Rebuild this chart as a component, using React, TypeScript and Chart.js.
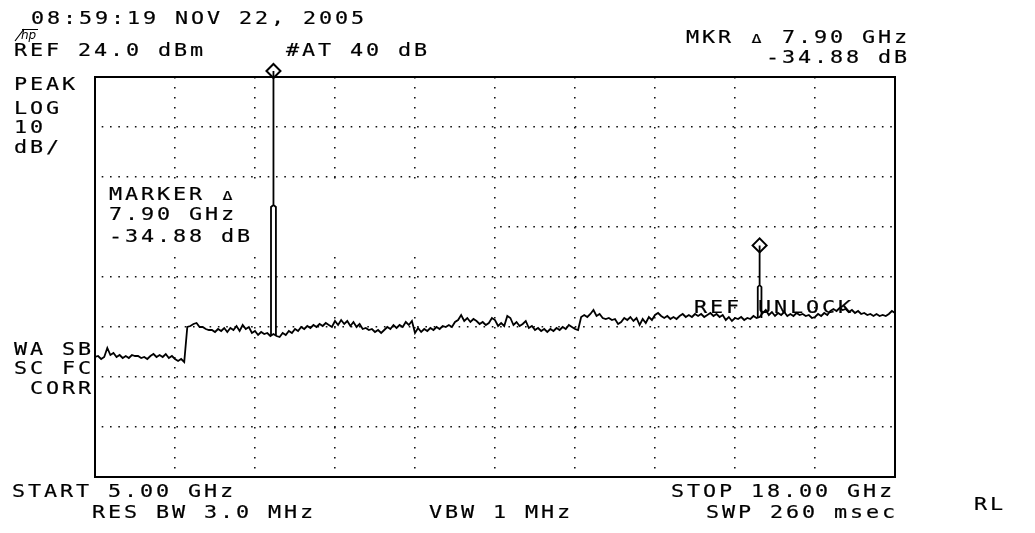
import React, { useEffect, useRef } from "react";
import { Chart, registerables } from "chart.js";

Chart.register(...registerables);

// ---------------- instrument settings ----------------
const START_GHZ = 5.0;
const STOP_GHZ = 18.0;
const SWEEP_STEP_GHZ = 0.05;
const REF_LEVEL_DBM = 24.0;
const DB_PER_DIV = 10;
const Y_DIVS = 8;
const X_DIVS = 10;

// ---------------- trace (dBm), one value per sweep point 5.00, 5.05 ... 18.00 GHz ----------------
const TRACE_DBM = [
  // 5.00 - 5.95
  -32.0, -31.8, -32.4, -32.0, -30.2, -31.6, -31.2, -32.0, -31.6, -32.2, -31.8, -32.2, -31.6, -31.8, -31.8, -32.2, -32.0, -32.4, -31.8, -31.4,
  // 6.00 - 6.95
  -32.0, -31.6, -32.0, -31.4, -32.2, -31.8, -32.4, -32.8, -32.4, -33.0, -26.0, -25.8, -25.4, -25.2, -26.0, -26.0, -26.4, -26.6, -26.6, -27.0,
  // 7.00 - 7.95
  -26.4, -26.8, -26.2, -27.0, -26.2, -26.6, -25.8, -26.8, -25.6, -26.4, -26.0, -27.2, -26.8, -27.6, -27.0, -27.4, -27.2, -27.8, -27.4, -27.8,
  // 8.00 - 8.95
  -28.0, -27.2, -27.6, -26.8, -27.2, -26.4, -26.8, -26.0, -26.4, -25.8, -26.2, -25.6, -26.0, -25.4, -25.8, -25.2, -25.6, -26.0, -24.8, -25.6,
  // 9.00 - 9.95
  -24.6, -25.4, -24.8, -25.8, -25.0, -26.0, -25.4, -26.4, -26.2, -26.6, -26.4, -27.0, -26.6, -27.2, -26.6, -26.0, -26.4, -25.6, -26.2, -25.6,
  // 10.00 - 10.95
  -26.0, -25.0, -25.6, -24.8, -27.2, -26.2, -27.0, -26.4, -26.8, -26.2, -26.6, -26.0, -26.4, -25.8, -26.0, -25.6, -26.0, -25.0, -24.6, -23.6,
  // 11.00 - 11.95
  -24.8, -24.2, -25.0, -24.4, -24.8, -25.4, -25.0, -25.6, -25.2, -24.2, -24.6, -25.8, -25.2, -25.8, -23.8, -24.2, -25.6, -25.0, -25.8, -25.4,
  // 12.00 - 12.95
  -24.8, -26.2, -25.8, -26.6, -26.2, -26.8, -26.4, -27.0, -26.4, -26.8, -26.2, -26.6, -26.0, -26.4, -25.6, -26.0, -26.4, -26.6, -24.0, -23.6,
  // 13.00 - 13.95
  -24.0, -23.4, -22.6, -23.8, -23.4, -24.2, -24.4, -24.2, -24.6, -24.4, -25.4, -25.0, -24.2, -24.6, -24.0, -24.8, -24.2, -25.6, -24.4, -25.2,
  // 14.00 - 14.95
  -24.0, -24.6, -23.6, -23.2, -23.8, -24.2, -23.8, -24.4, -24.0, -24.4, -23.8, -23.4, -24.0, -23.6, -24.0, -23.4, -23.8, -23.4, -24.0, -23.6,
  // 15.00 - 15.95
  -23.2, -23.8, -23.4, -24.0, -23.6, -24.6, -24.0, -24.8, -24.2, -24.4, -24.0, -24.6, -24.2, -24.4, -23.8, -24.2, -24.0, -23.2, -22.6, -23.6,
  // 16.00 - 16.95
  -23.0, -23.8, -23.2, -23.6, -23.0, -23.8, -23.4, -23.8, -23.2, -23.6, -23.4, -23.8, -23.6, -24.2, -24.0, -23.4, -23.8, -23.2, -23.6, -22.8,
  // 17.00 - 17.95
  -22.4, -22.8, -22.2, -22.6, -22.4, -23.0, -22.6, -23.2, -22.8, -23.4, -23.2, -23.6, -23.4, -23.8, -23.4, -23.8, -23.6, -23.8, -23.4, -22.8,
  // 18.00
  -23.2,
];

// ---------------- signal spikes ----------------
const SPIKE1_GHZ = [7.86, 7.86, 7.9, 7.9, 7.9, 7.94, 7.94];
const SPIKE1_DBM = [-27.6, -2.0, -1.6, 25.2, -1.6, -2.0, -27.6];
const SPIKE2_GHZ = [15.77, 15.77, 15.8, 15.8, 15.8, 15.83, 15.83];
const SPIKE2_DBM = [-24.2, -18.0, -17.6, -9.68, -17.6, -18.0, -24.2];

// ---------------- markers ----------------
const MARKER_GHZ = [7.9, 15.8];
const MARKER_DBM = [25.2, -9.68];

// ---------------- screen annotations ----------------
const TXT_DATE = "08:59:19 NOV 22, 2005";
const TXT_REF = "REF 24.0 dBm";
const TXT_ATT = "#AT 40 dB";
const TXT_MKR1 = "MKR \u0394 7.90 GHz";
const TXT_MKR2 = "-34.88 dB";
const TXT_LEFT = ["PEAK", "LOG", "10", "dB/"];
const TXT_MARKER = ["MARKER \u0394", "7.90 GHz", "-34.88 dB"];
const TXT_CORR = ["WA SB", "SC FC", " CORR"];
const TXT_UNLOCK = "REF UNLOCK";
const TXT_START = "START 5.00 GHz";
const TXT_STOP = "STOP 18.00 GHz";
const TXT_RBW = "RES BW 3.0 MHz";
const TXT_VBW = "VBW 1 MHz";
const TXT_SWP = "SWP 260 msec";
const TXT_RL = "RL";

// text layout: [x of first glyph, baseline]
const POS_LEFT = [[15, 90], [15, 114], [15, 133], [15, 153]];
const POS_MARKER = [[110, 200], [110, 220], [110, 242]];
const POS_CORR = [[15, 355], [15, 374], [15, 394]];

const PITCH = 16;
const FONT_FAMILY = '"DejaVu Sans Mono", monospace';

function drawHP(ctx: CanvasRenderingContext2D, text: string, x0: number, base: number) {
  for (let i = 0; i < text.length; i++) {
    const ch = text[i];
    if (ch === " ") continue;
    ctx.save();
    ctx.translate(x0 + i * PITCH + 5.5, base);
    ctx.scale(1.28, 1);
    ctx.font = ch === "\u0394" ? `13px ${FONT_FAMILY}` : `17px ${FONT_FAMILY}`;
    ctx.textAlign = "center";
    ctx.textBaseline = "alphabetic";
    ctx.fillStyle = "#000";
    ctx.strokeStyle = "#000";
    ctx.lineWidth = 0.2;
    ctx.fillText(ch, 0, 0);
    ctx.strokeText(ch, 0, 0);
    ctx.restore();
  }
}

const screenPlugin = {
  id: "hpScreen",
  beforeDatasetsDraw(chart: any) {
    const { ctx, chartArea } = chart;
    const xs = chart.scales.x;
    const ys = chart.scales.y;
    ctx.save();
    // white box behind the marker readout (hides the graticule there)
    const bx1 = chartArea.left + 2;
    const bx2 = xs.getPixelForValue(START_GHZ + 5 * ((STOP_GHZ - START_GHZ) / X_DIVS)) - 1;
    const by1 = ys.getPixelForValue(REF_LEVEL_DBM - 2 * DB_PER_DIV) + 2;
    const by2 = ys.getPixelForValue(REF_LEVEL_DBM - 3.55 * DB_PER_DIV);
    ctx.fillStyle = "#fff";
    ctx.fillRect(bx1, by1, bx2 - bx1, by2 - by1);
    // frame
    ctx.strokeStyle = "#000";
    ctx.lineWidth = 2;
    ctx.strokeRect(chartArea.left, chartArea.top, chartArea.right - chartArea.left, chartArea.bottom - chartArea.top);
    ctx.restore();
  },
  afterDraw(chart: any) {
    const ctx: CanvasRenderingContext2D = chart.ctx;
    ctx.save();
    drawHP(ctx, TXT_DATE, 32, 24);
    drawHP(ctx, TXT_REF, 15, 56);
    drawHP(ctx, TXT_ATT, 287, 56);
    drawHP(ctx, TXT_MKR1, 687, 43);
    drawHP(ctx, TXT_MKR2, 767, 63);
    TXT_LEFT.forEach((t, i) => drawHP(ctx, t, POS_LEFT[i][0], POS_LEFT[i][1]));
    TXT_MARKER.forEach((t, i) => drawHP(ctx, t, POS_MARKER[i][0], POS_MARKER[i][1]));
    TXT_CORR.forEach((t, i) => drawHP(ctx, t, POS_CORR[i][0], POS_CORR[i][1]));
    drawHP(ctx, TXT_UNLOCK, 695, 313);
    drawHP(ctx, TXT_START, 13, 497);
    drawHP(ctx, TXT_STOP, 672, 497);
    drawHP(ctx, TXT_RBW, 93, 518);
    drawHP(ctx, TXT_VBW, 430, 518);
    drawHP(ctx, TXT_SWP, 707, 518);
    drawHP(ctx, TXT_RL, 975, 510);
    // hp logo
    ctx.fillStyle = "#000";
    ctx.strokeStyle = "#000";
    ctx.lineWidth = 1.2;
    ctx.font = 'italic 12px "DejaVu Sans"';
    ctx.textBaseline = "alphabetic";
    ctx.textAlign = "left";
    ctx.fillText("hp", 21, 39);
    ctx.beginPath();
    ctx.moveTo(15, 41);
    ctx.lineTo(24, 29);
    ctx.moveTo(22, 29.5);
    ctx.lineTo(38, 29.5);
    ctx.stroke();
    ctx.restore();
  },
};

export default function App() {
  const ref = useRef<HTMLCanvasElement | null>(null);

  useEffect(() => {
    if (!ref.current) return;
    const trace = TRACE_DBM.map((v, i) => ({ x: START_GHZ + i * SWEEP_STEP_GHZ, y: v }));
    const spike1 = SPIKE1_GHZ.map((f, i) => ({ x: f, y: SPIKE1_DBM[i] }));
    const spike2 = SPIKE2_GHZ.map((f, i) => ({ x: f, y: SPIKE2_DBM[i] }));
    const markers = MARKER_GHZ.map((f, i) => ({ x: f, y: MARKER_DBM[i] }));
    const bottom = REF_LEVEL_DBM - Y_DIVS * DB_PER_DIV;

    const lineStyle = {
      borderColor: "#000",
      borderWidth: 1.8,
      pointRadius: 0,
      tension: 0,
      fill: false,
      borderJoinStyle: "miter",
    };

    const chart = new Chart(ref.current, {
      type: "line",
      data: {
        datasets: [
          { label: "trace", data: trace, ...lineStyle },
          { label: "spike1", data: spike1, ...lineStyle, clip: false },
          { label: "spike2", data: spike2, ...lineStyle, clip: false },
          {
            label: "markers",
            data: markers,
            showLine: false,
            pointStyle: "rectRot",
            pointRadius: 7,
            pointBackgroundColor: "#fff",
            pointBorderColor: "#000",
            pointBorderWidth: 2,
            clip: false,
          },
        ],
      } as any,
      options: {
        animation: false,
        responsive: false,
        events: [],
        layout: { padding: { left: 95, top: 77, right: 140, bottom: 56 } },
        scales: {
          x: {
            type: "linear",
            min: START_GHZ,
            max: STOP_GHZ,
            ticks: { display: false, stepSize: (STOP_GHZ - START_GHZ) / X_DIVS },
            grid: { color: "#111", lineWidth: 1.6, drawTicks: false },
            border: { display: false, dash: [1.6, 8.4], dashOffset: 0 },
            afterFit: (s: any) => {
              s.height = 0;
            },
          },
          y: {
            type: "linear",
            min: bottom,
            max: REF_LEVEL_DBM,
            ticks: { display: false, stepSize: DB_PER_DIV },
            grid: { color: "#111", lineWidth: 1.6, drawTicks: false },
            border: { display: false, dash: [1.6, 6.7], dashOffset: 1.6 },
            afterFit: (s: any) => {
              s.width = 0;
            },
          },
        },
        plugins: { legend: { display: false }, tooltip: { enabled: false } },
      } as any,
      plugins: [screenPlugin],
    });
    return () => chart.destroy();
  }, []);

  return (
    <div style={{ position: "absolute", left: 0, top: 0, width: 1035, height: 533, background: "#fff" }}>
      <canvas ref={ref} width={1035} height={533} style={{ display: "block", width: 1035, height: 533 }} />
    </div>
  );
}
